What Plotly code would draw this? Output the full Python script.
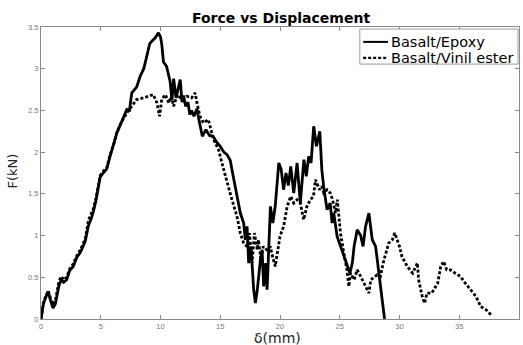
import plotly.graph_objects as go

# Force–displacement readings (displacement in mm, force in kN)
epoxy_disp = [0, 0.2, 0.4, 0.6, 0.8, 1.0, 1.2, 1.5, 1.7, 1.9,
              2.15, 2.4, 2.7, 3.0, 3.3, 3.7, 3.97, 4.2, 4.4, 4.6,
              4.8, 4.95, 5.2, 5.5, 5.78, 6.1, 6.35, 6.7, 7.18, 7.4,
              7.6, 8.0, 8.3, 8.6, 8.86, 9.1, 9.28, 9.56, 9.83, 10.0,
              10.1, 10.25, 10.5, 10.7, 10.8, 10.96, 11.1, 11.3, 11.5, 11.65,
              11.8, 11.93, 12.1, 12.3, 12.45, 12.6, 12.8, 13.05, 13.2, 13.5,
              13.8, 14.1, 14.4, 14.7, 15.0, 15.3, 15.57, 15.84, 15.98, 16.26,
              16.54, 16.68, 16.96, 17.1, 17.24, 17.38, 17.57, 17.8, 17.94, 18.1,
              18.36, 18.5, 18.63, 18.8, 18.92, 19.05, 19.2, 19.4, 19.6, 19.9,
              20.1, 20.3, 20.5, 20.7, 20.9, 21.15, 21.43, 21.7, 22.0, 22.2,
              22.4, 22.6, 22.82, 23.05, 23.33, 23.5, 23.65, 23.94, 24.2, 24.36,
              24.5, 24.78, 25.06, 25.34, 25.6, 25.85, 26.05, 26.2, 26.46, 26.75,
              26.95, 27.16, 27.44, 27.72, 28.0, 28.27, 28.55, 28.75]
epoxy_force = [0, 0.18, 0.26, 0.33, 0.22, 0.13, 0.18, 0.4, 0.47, 0.44,
               0.47, 0.58, 0.63, 0.74, 0.8, 0.93, 1.12, 1.2, 1.3, 1.42,
               1.58, 1.7, 1.75, 1.8, 1.95, 2.1, 2.23, 2.35, 2.51, 2.5,
               2.71, 2.78, 2.91, 3.0, 3.15, 3.3, 3.33, 3.37, 3.43, 3.38,
               3.3, 3.08, 3.03, 2.9, 2.85, 2.62, 2.88, 2.65, 2.8, 2.87,
               2.6, 2.68, 2.55, 2.6, 2.45, 2.5, 2.43, 2.52, 2.4, 2.19,
               2.27, 2.2, 2.19, 2.12, 2.07, 2.0, 1.97, 1.9, 1.79, 1.59,
               1.35, 1.27, 1.15, 0.95, 1.11, 0.67, 0.87, 0.35, 0.19, 0.35,
               0.71, 0.83, 0.39, 0.67, 0.35, 0.83, 1.35, 1.15, 1.35, 1.87,
               1.79, 1.55, 1.75, 1.6, 1.83, 1.51, 1.87, 1.39, 1.91, 1.71,
               1.95, 1.87, 2.31, 2.07, 2.25, 1.79, 1.59, 1.31, 1.39, 1.15,
               1.27, 0.99, 0.87, 0.75, 0.63, 0.55, 0.67, 0.87, 1.07, 1.0,
               0.87, 1.11, 1.27, 0.95, 0.87, 0.55, 0.23, 0.0]

vinil_disp = [0, 0.2, 0.4, 0.6, 0.8, 1.0, 1.2, 1.5, 1.7, 1.9,
              2.15, 2.4, 2.7, 3.0, 3.3, 3.7, 3.97, 4.2, 4.4, 4.6,
              4.8, 4.95, 5.2, 5.5, 5.78, 6.1, 6.35, 6.7, 7.18, 7.6,
              8.0, 8.57, 9.1, 9.4, 9.7, 9.92, 10.1, 10.4, 10.7, 10.9,
              11.1, 11.4, 11.8, 12.2, 12.6, 12.9, 13.05, 13.3, 13.6, 14.0,
              14.44, 14.86, 15.14, 15.57, 15.98, 16.4, 16.68, 16.96, 17.24, 17.44,
              17.66, 17.86, 18.1, 18.2, 18.4, 18.6, 18.9, 19.2, 19.3, 19.6,
              19.8, 20.0, 20.3, 20.6, 20.9, 21.15, 21.43, 21.7, 21.98, 22.25,
              22.55, 22.8, 22.97, 23.3, 23.5, 23.66, 23.94, 24.2, 24.4, 24.64,
              24.8, 25.06, 25.34, 25.6, 25.76, 25.9, 26.2, 26.46, 26.75, 27.0,
              27.3, 27.44, 27.6, 27.9, 28.14, 28.4, 28.7, 29.1, 29.4, 29.6,
              29.8, 30.0, 30.2, 30.65, 31.1, 31.5, 31.6, 31.9, 32.1, 32.3,
              32.7, 33.2, 33.45, 33.7, 33.95, 34.25, 34.65, 35.1, 35.5, 35.95,
              36.4, 36.8, 37.25, 37.65]
vinil_force = [0, 0.2, 0.27, 0.34, 0.25, 0.17, 0.22, 0.45, 0.51, 0.47,
               0.5, 0.6, 0.66, 0.76, 0.83, 0.96, 1.18, 1.27, 1.33, 1.45,
               1.6, 1.72, 1.77, 1.81, 1.97, 2.1, 2.24, 2.35, 2.47, 2.55,
               2.63, 2.65, 2.67, 2.69, 2.59, 2.43, 2.63, 2.69, 2.59, 2.67,
               2.55, 2.69, 2.63, 2.67, 2.65, 2.71, 2.59, 2.43, 2.35, 2.39,
               2.15, 2.03, 1.87, 1.63, 1.43, 1.23, 1.03, 0.91, 0.87, 1.03,
               0.67, 1.03, 0.83, 0.95, 0.71, 0.87, 0.83, 0.87, 0.79, 0.63,
               0.83, 0.99, 1.11, 1.35, 1.47, 1.39, 1.43, 1.39, 1.19, 1.35,
               1.43, 1.47, 1.67, 1.55, 1.59, 1.51, 1.55, 1.51, 1.43, 1.27,
               1.43, 1.03, 0.79, 0.59, 0.39, 0.55, 0.47, 0.59, 0.51, 0.43,
               0.35, 0.31, 0.47, 0.51, 0.53, 0.51, 0.71, 0.91, 0.95, 1.03,
               0.95, 0.87, 0.75, 0.63, 0.55, 0.67, 0.47, 0.27, 0.19, 0.31,
               0.31, 0.43, 0.63, 0.69, 0.59, 0.59, 0.55, 0.51, 0.43, 0.35,
               0.27, 0.15, 0.11, 0.05]

x_ticks = [0, 5, 10, 15, 20, 25, 30, 35, 40]
y_ticks = [0, 0.5, 1, 1.5, 2, 2.5, 3, 3.5]

series_names = ["Basalt/Epoxy", "Basalt/Vinil ester"]
series_dash = ["solid", "3px,2px"]

TEXT_FONT = "DejaVu Sans, Liberation Sans, sans-serif"
TICK_FONT = "Liberation Sans, Arial, sans-serif"
LINE_W = 2.8

fig = go.Figure()
fig.add_trace(go.Scatter(
    x=epoxy_disp, y=epoxy_force, mode="lines", name=series_names[0],
    line=dict(color="black", width=LINE_W, dash=series_dash[0]),
))
fig.add_trace(go.Scatter(
    x=vinil_disp, y=vinil_force, mode="lines", name=series_names[1],
    line=dict(color="black", width=LINE_W, dash=series_dash[1]),
))

axis_common = dict(
    showgrid=False, zeroline=False, showline=True, linecolor="#8a8a8a",
    linewidth=1, mirror="ticks", ticks="inside", ticklen=4, tickcolor="#8a8a8a",
    tickfont=dict(family=TICK_FONT, size=7.5, color="#777777"),
)

# Compact boxed legend in the upper-right corner (paper coordinates)
box_x0, box_x1, box_y0, box_y1 = 0.667, 0.998, 0.873, 0.993
key_x0, key_x1, label_x = 0.674, 0.726, 0.728
row_y = [0.949, 0.894]

shapes = [dict(type="rect", xref="paper", yref="paper",
               x0=box_x0, x1=box_x1, y0=box_y0, y1=box_y1,
               line=dict(color="#9a9a9a", width=1), fillcolor="white", layer="above")]
legend_labels = []
for name, dash, ry in zip(series_names, series_dash, row_y):
    shapes.append(dict(type="line", xref="paper", yref="paper",
                       x0=key_x0, x1=key_x1, y0=ry, y1=ry, layer="above",
                       line=dict(color="black", width=2 if dash == "solid" else 2.2,
                                 dash=dash)))
    legend_labels.append(dict(text=name, xref="paper", yref="paper",
                              x=label_x, y=ry, xanchor="left", yanchor="middle",
                              showarrow=False,
                              font=dict(family=TEXT_FONT, size=14.5, color="black")))

fig.update_layout(
    width=523, height=345,
    margin=dict(l=41, r=4, t=27, b=26),
    paper_bgcolor="white", plot_bgcolor="white",
    font=dict(family=TEXT_FONT, color="black"),
    showlegend=False,
    shapes=shapes,
    xaxis=dict(range=[0, 40], tickvals=x_ticks, **axis_common),
    yaxis=dict(range=[0, 3.5], tickvals=y_ticks, **axis_common),
    annotations=[
        dict(text="<b>Force vs Displacement</b>", xref="paper", yref="paper",
             x=0.502, y=1, yshift=9, xanchor="center", yanchor="middle",
             showarrow=False, font=dict(family=TEXT_FONT, size=14, color="black")),
        dict(text="δ(mm)", xref="paper", yref="paper",
             x=0.495, y=0, yshift=-19, xanchor="center", yanchor="middle",
             showarrow=False, font=dict(family=TEXT_FONT, size=14, color="#222222")),
        dict(text="F(kN)", xref="paper", yref="paper",
             x=0, y=0.505, xshift=-28, xanchor="center", yanchor="middle",
             textangle=-90, showarrow=False,
             font=dict(family=TEXT_FONT, size=13, color="#222222")),
    ] + legend_labels,
)

fig.write_html("out.html")
